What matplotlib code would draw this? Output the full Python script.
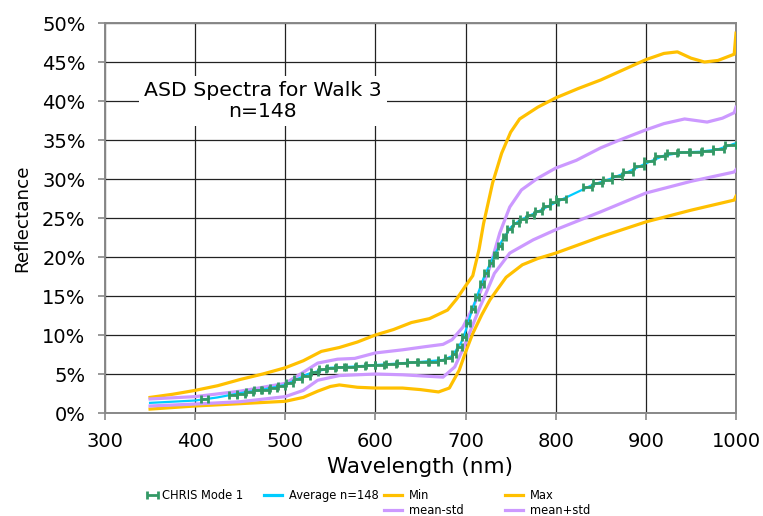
import matplotlib.pyplot as plt
from matplotlib.ticker import PercentFormatter, MultipleLocator
from matplotlib.lines import Line2D

# Spectral curves (reflectance in %)
max_wl = [350, 375, 400, 425, 450, 475, 500, 520, 540, 560, 580, 600, 620, 640, 660, 680, 690,
          700, 708, 715, 720, 730, 740, 750, 760, 780, 800, 825, 850, 875, 900, 920, 935, 950,
          965, 980, 998, 1000]
max_refl = [2.0, 2.4, 2.9, 3.5, 4.3, 5.0, 5.8, 6.7, 7.9, 8.4, 9.1, 10.0, 10.7, 11.6, 12.1, 13.2, 14.6,
            16.3, 17.6, 21.0, 24.3, 29.5, 33.3, 36.0, 37.7, 39.2, 40.4, 41.6, 42.7, 44.0, 45.3, 46.1,
            46.3, 45.5, 45.0, 45.2, 46.0, 48.7]

min_wl = [350, 375, 400, 450, 500, 520, 536, 550, 560, 580, 600, 630, 650, 670, 682, 693, 700, 708,
          718, 727, 735, 745, 763, 780, 800, 850, 900, 950, 998, 1000]
min_refl = [0.5, 0.7, 0.9, 1.2, 1.5, 2.0, 2.8, 3.4, 3.6, 3.3, 3.2, 3.2, 3.0, 2.7, 3.2, 5.5, 7.8, 10.2,
            12.6, 14.5, 15.8, 17.4, 19.0, 19.8, 20.5, 22.6, 24.5, 26.0, 27.3, 27.8]

lo_wl = [350, 400, 450, 500, 520, 536, 560, 580, 600, 630, 660, 675, 688, 699, 708, 716, 721, 732,
         749, 775, 800, 850, 900, 950, 998, 1000]
lo_refl = [0.9, 1.15, 1.45, 2.1, 2.9, 4.2, 4.8, 4.9, 5.0, 4.9, 4.7, 4.6, 5.9, 8.7, 11.3, 13.6, 14.9, 17.9,
           20.5, 22.2, 23.5, 25.8, 28.2, 29.7, 30.9, 31.2]

hi_wl = [350, 400, 450, 500, 521, 536, 558, 577, 600, 630, 655, 675, 685, 697, 705, 712, 716, 727,
         738, 749, 762, 780, 800, 823, 850, 871, 900, 920, 943, 968, 985, 998, 1000]
hi_refl = [1.8, 2.1, 2.8, 3.8, 5.3, 6.4, 6.9, 7.0, 7.7, 8.1, 8.5, 8.8, 9.4, 11.0, 12.8, 14.5, 15.4, 18.7,
           23.1, 26.4, 28.6, 30.1, 31.4, 32.4, 34.0, 35.0, 36.3, 37.1, 37.7, 37.3, 37.8, 38.5, 39.2]

avg_wl = [350, 375, 400, 425, 450, 475, 500, 525, 550, 575, 600, 625, 650, 675, 685, 695, 700, 705,
          710, 715, 720, 725, 730, 740, 750, 760, 780, 800, 820, 840, 860, 880, 900, 920, 940, 960,
          980, 1000]
avg_refl = [1.3, 1.45, 1.6, 2.0, 2.55, 3.0, 3.6, 5.0, 5.8, 5.95, 6.15, 6.35, 6.55, 6.8, 7.3, 9.0, 10.5,
            12.4, 14.1, 15.7, 17.3, 18.6, 19.8, 22.0, 23.8, 24.7, 25.8, 27.0, 28.1, 29.2, 30.0, 30.9,
            32.0, 33.0, 33.4, 33.5, 33.8, 34.6]

# CHRIS Mode 1 bands: centre, bandwidth (nm), reflectance (%)
chris_wl = [410, 442, 451, 460, 469, 478, 487, 496, 505, 514, 523, 532, 541, 551, 561, 572, 583, 594,
            605, 617, 629, 641, 653, 664, 673, 681, 687, 693, 698, 703, 708, 713, 718, 723, 728, 733,
            738, 743, 749, 756, 764, 772, 781, 790, 798, 806, 835, 846, 857, 868, 880, 892, 904, 916,
            929, 942, 955, 968, 981, 994]
chris_bw = [8, 8, 8, 8, 8, 8, 8, 8, 8, 8, 8, 8, 8, 9, 9, 10, 10, 10,
            10, 11, 11, 11, 11, 10, 8, 7, 5, 5, 4, 4, 4, 4, 4, 4, 4, 4,
            4, 4, 5, 6, 7, 7, 8, 8, 8, 11, 10, 10, 10, 10, 11, 11, 11, 11,
            12, 12, 12, 12, 12, 12]
chris_refl = [1.8, 2.35, 2.5, 2.7, 2.9, 3.0, 3.15, 3.45, 3.85, 4.3, 4.8, 5.3, 5.6, 5.8, 5.9, 5.95, 6.0, 6.1,
              6.2, 6.3, 6.4, 6.5, 6.55, 6.6, 6.75, 7.1, 7.6, 8.5, 9.8, 11.6, 13.3, 14.9, 16.5, 18.0, 19.2, 20.3,
              21.4, 22.6, 23.6, 24.3, 24.9, 25.4, 25.9, 26.5, 27.0, 27.5, 29.0, 29.5, 29.9, 30.4, 30.9, 31.7,
              32.3, 32.9, 33.3, 33.4, 33.5, 33.6, 33.8, 34.3]

ORANGE = '#FFC000'
PURPLE = '#CC99FF'
CYAN = '#00CCFF'
GREEN = '#339966'

fig = plt.figure(figsize=(7.63, 5.16), dpi=100)
ax = fig.add_axes([0.1376, 0.1996, 0.8270, 0.7558])

ax.plot(max_wl, max_refl, color=ORANGE, lw=2.3, zorder=3)
ax.plot(min_wl, min_refl, color=ORANGE, lw=2.3, zorder=3)
ax.plot(lo_wl, lo_refl, color=PURPLE, lw=2.3, zorder=4)
ax.plot(hi_wl, hi_refl, color=PURPLE, lw=2.3, zorder=4)
ax.plot(avg_wl, avg_refl, color=CYAN, lw=1.6, zorder=5)
half_bw = [b / 2 for b in chris_bw]
chris = ax.errorbar(chris_wl, chris_refl, xerr=half_bw, fmt='none', ecolor=GREEN,
                    elinewidth=2.0, capsize=2.8, capthick=2.0, zorder=6)

ax.set_xlim(300, 1000)
ax.set_ylim(0, 50)
ax.xaxis.set_major_locator(MultipleLocator(100))
ax.yaxis.set_major_locator(MultipleLocator(5))
ax.yaxis.set_major_formatter(PercentFormatter(100, decimals=0))
ax.grid(True, color='#222222', lw=0.9)
ax.set_axisbelow(True)
for s in ax.spines.values():
    s.set_color('#888888')
    s.set_linewidth(1.4)
ax.tick_params(direction='out', length=5, width=1.2, color='#888888', labelsize=14, pad=9)
ax.set_xlabel('Wavelength (nm)', fontsize=15.5, labelpad=4)
ax.set_ylabel('Reflectance', fontsize=13.2, labelpad=8)

ax.text(0.25, 0.80, 'ASD Spectra for Walk 3\nn=148', transform=ax.transAxes,
        ha='center', va='center', fontsize=14.7, linespacing=1.1, zorder=7,
        bbox=dict(boxstyle='square,pad=0.25', fc='white', ec='none'))

# legend laid out in four columns under the plot
cols = [
    (150, [(chris, 'CHRIS Mode 1')], 0.45),
    (264, [(Line2D([], [], color=CYAN, lw=2.3), 'Average n=148')], 1.6),
    (384, [(Line2D([], [], color=ORANGE, lw=2.3), 'Min'), (Line2D([], [], color=PURPLE, lw=2.3), 'mean-std')], 1.6),
    (505, [(Line2D([], [], color=ORANGE, lw=2.3), 'Max'), (Line2D([], [], color=PURPLE, lw=2.3), 'mean+std')], 1.6),
]
for x, entries, hl in cols:
    leg = fig.legend([h for h, _ in entries], [t for _, t in entries], loc='upper left',
                     bbox_to_anchor=(x / 763, 1 - 489 / 516), frameon=False, fontsize=8.3,
                     handlelength=hl, handletextpad=0.6, labelspacing=0.2, borderpad=0,
                     borderaxespad=0)

fig.savefig('out.png', dpi=100)
